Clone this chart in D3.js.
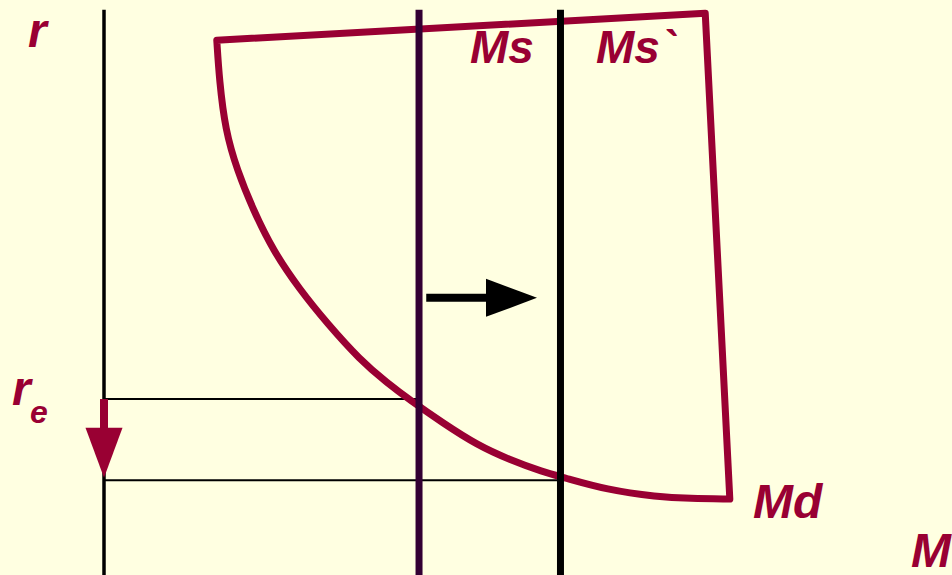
<!DOCTYPE html>
<html>
<head>
<meta charset="utf-8">
<script src="https://cdn.jsdelivr.net/npm/d3@7"></script>
<style>
  html, body { margin: 0; padding: 0; background: #FFFFE1; }
  svg { display: block; }
  text { font-family: "Liberation Sans", Arial, sans-serif; font-weight: bold; }
</style>
</head>
<body>
<svg id="chart" width="952" height="575"></svg>
<script>
// ---- data (money quantity M, interest rate r) ----
const mdCurveM = [1.33, 1.36, 1.43, 1.57, 1.76, 1.99, 2.31, 2.63, 3.02, 3.34, 3.61, 4.00, 4.40, 4.79, 5.18, 5.41, 5.93, 6.52, 6.91, 7.38];
const mdCurveR = [9.30, 8.61, 7.74, 7.04, 6.35, 5.65, 4.96, 4.38, 3.74, 3.34, 3.04, 2.64, 2.26, 2.00, 1.79, 1.70, 1.48, 1.36, 1.33, 1.32];
const mdCornerM = 7.09;
const mdCornerR = 9.77;
const supplyLabels = ["Ms", "Ms`"];
const supplyValues = [3.715, 5.383];
const equilibriumR = [3.06, 1.65];
const rAxisTop = 9.83;

// ---- scales ----
const W = 952, H = 575;
const x = d3.scaleLinear().domain([0, 10]).range([104, 952]);
const y = d3.scaleLinear().domain([0, 10]).range([575, 0]);

const svg = d3.select("#chart");
const red = "#990033";

svg.append("rect").attr("width", W).attr("height", H).attr("fill", "#FFFFE1");

// horizontal equilibrium guides
svg.selectAll("line.guide").data(equilibriumR).enter().append("line")
  .attr("class", "guide")
  .attr("x1", x(0)).attr("x2", (d, i) => x(supplyValues[i]))
  .attr("y1", d => y(d)).attr("y2", d => y(d))
  .attr("stroke", "#000").attr("stroke-width", 2);

// Md closed shape: curve + right edge + top edge
const curvePts = mdCurveM.map((m, i) => [x(m), y(mdCurveR[i])]);
const curveLine = d3.line().curve(d3.curveBasis);
const pathD = curveLine(curvePts) +
  "L" + x(mdCornerM) + "," + y(mdCornerR) +
  "L" + curvePts[0][0] + "," + curvePts[0][1] + "Z";
svg.append("path")
  .attr("d", pathD)
  .attr("fill", "none")
  .attr("stroke", red)
  .attr("stroke-width", 7)
  .attr("stroke-linejoin", "round");

// r axis
svg.append("line")
  .attr("x1", x(0)).attr("x2", x(0))
  .attr("y1", y(rAxisTop)).attr("y2", y(0))
  .attr("stroke", "#000").attr("stroke-width", 3.5);

// money supply lines
const supplyColors = ["#330033", "#000000"];
svg.selectAll("line.ms").data(supplyValues).enter().append("line")
  .attr("class", "ms")
  .attr("x1", d => x(d)).attr("x2", d => x(d))
  .attr("y1", y(rAxisTop)).attr("y2", y(0))
  .attr("stroke", (d, i) => supplyColors[i]).attr("stroke-width", 7);

// right arrow (shift of supply)
const arrowR = 4.82, arrowX0 = 3.80, arrowX1 = 5.106;
const hx = x(arrowX1), hy = y(arrowR);
svg.append("line")
  .attr("x1", x(arrowX0)).attr("x2", hx - 50)
  .attr("y1", hy).attr("y2", hy)
  .attr("stroke", "#000").attr("stroke-width", 8);
svg.append("path")
  .attr("d", `M${hx},${hy}L${hx - 51},${hy - 19}L${hx - 51},${hy + 19}Z`)
  .attr("fill", "#000");

// down arrow (fall of r)
const ax = x(0), ay0 = y(equilibriumR[0]), ay1 = y(1.69);
svg.append("line")
  .attr("x1", ax).attr("x2", ax)
  .attr("y1", ay0).attr("y2", ay1 - 48)
  .attr("stroke", red).attr("stroke-width", 8);
svg.append("path")
  .attr("d", `M${ax},${ay1}L${ax - 18.5},${ay1 - 50}L${ax + 18.5},${ay1 - 50}Z`)
  .attr("fill", red);

// labels
const lab = (t, px, py, size) => svg.append("text")
  .attr("x", px).attr("y", py)
  .attr("font-size", size)
  .attr("font-style", "italic")
  .attr("fill", red)
  .text(t);

lab("r", 28, 47, 48);
lab(supplyLabels[0], 470, 63, 46);
lab(supplyLabels[1], 596, 63, 46);
lab("Md", 753, 518, 48);
lab("M", 911, 567, 48);
lab("r", 12, 405, 48);
lab("e", 30, 423, 32);
</script>
</body>
</html>
